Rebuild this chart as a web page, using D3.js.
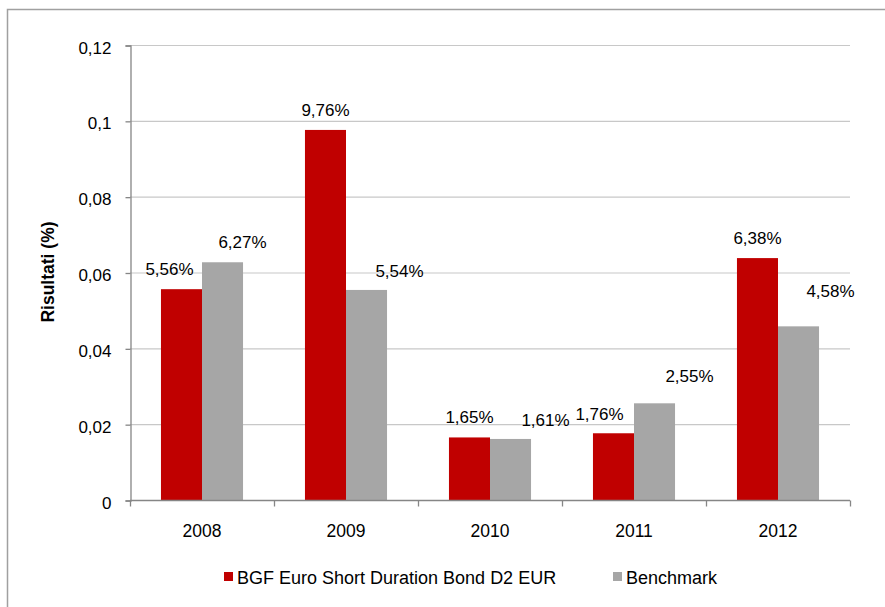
<!DOCTYPE html>
<html>
<head>
<meta charset="utf-8">
<script src="https://cdn.jsdelivr.net/npm/d3@7"></script>
<style>
  body { margin: 0; background: #fff; }
  svg { display: block; font-family: "Liberation Sans", Arial, sans-serif; }
</style>
</head>
<body>
<svg id="chart"></svg>
<script>
// Chart data
const years = ['2008', '2009', '2010', '2011', '2012'];
const series = ['BGF Euro Short Duration Bond D2 EUR', 'Benchmark'];
const fundValues = [0.0556, 0.0976, 0.0165, 0.0176, 0.0638];
const benchValues = [0.0627, 0.0554, 0.0161, 0.0255, 0.0458];
const yTicks = [0, 0.02, 0.04, 0.06, 0.08, 0.1, 0.12];

// label nudges (dx from bar centre, dy of baseline from bar top), as placed in the original
const fundLabelShift = [[-12, -14], [0, -14], [0, -14], [-14, -13], [0, -14]];
const benchLabelShift = [[20, -14], [33, -13], [35, -13], [35, -21], [32, -29]];

const colors = ['#c00000', '#a6a6a6'];
const width = 885, height = 607;
const margin = {top: 45, right: 35, bottom: 107, left: 130};

const svg = d3.select('#chart')
    .attr('width', width)
    .attr('height', height);

// outer frame
svg.append('rect')
    .attr('x', 7.5).attr('y', 9.5)
    .attr('width', width + 20).attr('height', height + 20)
    .attr('fill', 'none')
    .attr('stroke', '#a0a0a0')
    .attr('stroke-width', 1.5);

const x0 = d3.scaleBand()
    .domain(years)
    .range([margin.left, width - margin.right])
    .paddingInner(0.43)
    .paddingOuter(0.215);

const x1 = d3.scaleBand()
    .domain(series)
    .range([0, x0.bandwidth()]);

const y = d3.scaleLinear()
    .domain([0, 0.12])
    .range([height - margin.bottom, margin.top]);

const fmtAxis = d => String(d).replace('.', ',');
const fmtPct = d => (d * 100).toFixed(2).replace('.', ',') + '%';

// gridlines
svg.append('g')
    .selectAll('line')
    .data(yTicks.slice(1))
    .join('line')
    .attr('x1', margin.left).attr('x2', width - margin.right)
    .attr('y1', d => y(d) + 0.5).attr('y2', d => y(d) + 0.5)
    .attr('stroke', '#c8c8c8')
    .attr('stroke-width', 1.2);

// y axis
const yAxis = svg.append('g')
    .attr('transform', 'translate(' + (margin.left + 0.5) + ',0.5)')
    .call(d3.axisLeft(y).tickValues(yTicks).tickFormat(fmtAxis).tickSize(5).tickPadding(14));
yAxis.select('.domain').attr('stroke', '#868686').attr('stroke-width', 1.3);
yAxis.selectAll('.tick line').attr('stroke', '#868686').attr('stroke-width', 1.3);
yAxis.selectAll('text')
    .attr('font-size', 17)
    .attr('font-family', '"Liberation Sans", Arial, sans-serif')
    .attr('fill', '#000')
    .attr('dy', '0.45em');

// bars
const data = years.map((yr, i) => ({year: yr, values: [fundValues[i], benchValues[i]]}));
const groups = svg.append('g')
    .selectAll('g')
    .data(data)
    .join('g')
    .attr('transform', d => 'translate(' + x0(d.year) + ',0)');

groups.selectAll('rect')
    .data(d => d.values.map((v, j) => ({key: series[j], value: v, j: j})))
    .join('rect')
    .attr('x', d => x1(d.key))
    .attr('width', x1.bandwidth())
    .attr('y', d => y(d.value))
    .attr('height', d => y(0) - y(d.value))
    .attr('fill', d => colors[d.j]);

// value labels
groups.selectAll('text')
    .data((d, i) => d.values.map((v, j) => ({
        key: series[j], value: v,
        shift: j === 0 ? fundLabelShift[i] : benchLabelShift[i]
    })))
    .join('text')
    .attr('x', d => x1(d.key) + x1.bandwidth() / 2 + d.shift[0])
    .attr('y', d => y(d.value) + d.shift[1])
    .attr('text-anchor', 'middle')
    .attr('font-size', 17)
    .attr('fill', '#000')
    .text(d => fmtPct(d.value));

// x axis line with boundary ticks
const xBase = y(0) + 0.5;
const step = x0.step();
svg.append('line')
    .attr('x1', margin.left).attr('x2', width - margin.right)
    .attr('y1', xBase).attr('y2', xBase)
    .attr('stroke', '#868686').attr('stroke-width', 1.3);
svg.append('g')
    .selectAll('line')
    .data(d3.range(years.length + 1))
    .join('line')
    .attr('x1', i => margin.left + i * step + 0.5)
    .attr('x2', i => margin.left + i * step + 0.5)
    .attr('y1', xBase).attr('y2', xBase + 6)
    .attr('stroke', '#868686').attr('stroke-width', 1.3);

svg.append('g')
    .selectAll('text')
    .data(years)
    .join('text')
    .attr('x', d => x0(d) + x0.bandwidth() / 2)
    .attr('y', 537)
    .attr('text-anchor', 'middle')
    .attr('font-size', 17.5)
    .text(d => d);

// y axis title
svg.append('text')
    .attr('transform', 'translate(54,272) rotate(-90)')
    .attr('text-anchor', 'middle')
    .attr('font-size', 17.5)
    .attr('font-weight', 'bold')
    .text('Risultati (%)');

// legend
const legendX = [224, 613];
const legend = svg.append('g')
    .selectAll('g')
    .data(series)
    .join('g')
    .attr('transform', (d, i) => 'translate(' + legendX[i] + ',572)');
legend.append('rect')
    .attr('width', 9).attr('height', 9)
    .attr('fill', (d, i) => colors[i]);
legend.append('text')
    .attr('x', 13).attr('y', 12)
    .attr('font-size', 18)
    .text(d => d);
</script>
</body>
</html>
